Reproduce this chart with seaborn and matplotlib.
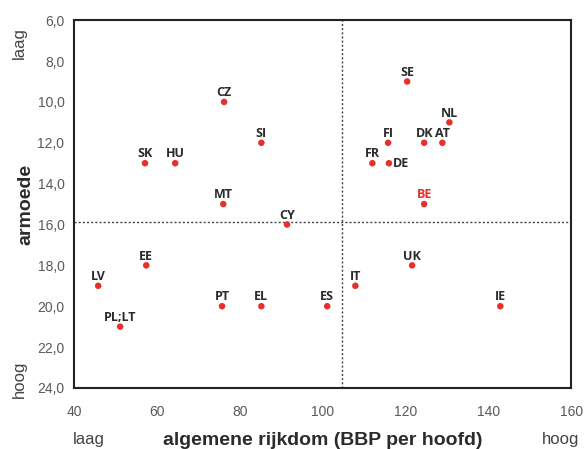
import pandas as pd
import seaborn as sns
import matplotlib.pyplot as plt

# data
landen = ['SE', 'NL', 'FI', 'DK', 'AT', 'FR', 'DE', 'BE', 'CZ', 'SI', 'SK', 'HU',
          'MT', 'CY', 'EE', 'LV', 'PL;LT', 'PT', 'EL', 'ES', 'IT', 'UK', 'IE']
rijkdom = [120.4, 130.6, 115.8, 124.5, 128.9, 112.0, 116.0, 124.5, 76.2, 85.2, 57.1, 64.4,
           76.0, 91.4, 57.4, 45.8, 51.1, 75.7, 85.2, 101.1, 107.9, 121.6, 142.9]
armoede = [9.0, 11.0, 12.0, 12.0, 12.0, 13.0, 13.0, 15.0, 10.0, 12.0, 13.0, 13.0,
           15.0, 16.0, 18.0, 19.0, 21.0, 20.0, 20.0, 20.0, 19.0, 18.0, 20.0]
gem_rijkdom = 104.7
gem_armoede = 15.9

df = pd.DataFrame({'land': landen, 'rijkdom': rijkdom, 'armoede': armoede})

sns.set_style("white")
plt.rcParams['font.family'] = ['Liberation Sans', 'DejaVu Sans']

rood = '#e8302a'
fig = plt.figure(figsize=(5.84, 4.49), dpi=100)
ax = fig.add_axes([0.127, 0.136, 0.851, 0.819])

sns.scatterplot(data=df, x='rijkdom', y='armoede', ax=ax, color=rood,
                s=22, edgecolor='none', zorder=3)

ax.axvline(gem_rijkdom, color='#444444', lw=1, ls=(0, (1.5, 1.5)), zorder=1)
ax.axhline(gem_armoede, color='#444444', lw=1, ls=(0, (1.5, 1.5)), zorder=1)

for land, x, y in zip(landen, rijkdom, armoede):
    kleur = rood if land == 'BE' else '#2b2b2b'
    if land == 'DE':
        ax.annotate(land, (x, y), xytext=(3, 0), textcoords='offset points',
                    ha='left', va='center', fontsize=9, fontweight='bold', color=kleur,
                    family=['Open Sans', 'DejaVu Sans'])
    else:
        ax.annotate(land, (x, y), xytext=(0, 2), textcoords='offset points',
                    ha='center', va='bottom', fontsize=9, fontweight='bold', color=kleur,
                    family=['Open Sans', 'DejaVu Sans'])

ax.set_xlim(40, 160)
ax.set_ylim(24, 6)
ax.set_xticks([40, 60, 80, 100, 120, 140, 160])
ax.set_yticks([6, 8, 10, 12, 14, 16, 18, 20, 22, 24])
ax.set_yticklabels([f'{v:.1f}'.replace('.', ',') for v in [6, 8, 10, 12, 14, 16, 18, 20, 22, 24]])
ax.tick_params(axis='both', length=4, width=1, color='#222222', labelsize=10,
               labelcolor='#5a5a5a', direction='out', pad=3)
ax.tick_params(axis='x', pad=8)
for sp in ax.spines.values():
    sp.set_color('#222222')
    sp.set_linewidth(1.5)

ax.set_xlabel('algemene rijkdom (BBP per hoofd)', fontsize=14, fontweight='bold',
              color='#2b2b2b', labelpad=10)
ax.set_ylabel('armoede', fontsize=14, fontweight='bold', color='#2b2b2b', labelpad=2)

fig.text(0.152, 0.005, 'laag', fontsize=12, color='#444444', ha='center', va='bottom')
fig.text(0.96, 0.005, 'hoog', fontsize=12, color='#444444', ha='center', va='bottom')
fig.text(0.034, 0.905, 'laag', fontsize=12, color='#444444', rotation=90, ha='center', va='center')
fig.text(0.034, 0.155, 'hoog', fontsize=12, color='#444444', rotation=90, ha='center', va='center')

plt.savefig('out.png', dpi=100)
